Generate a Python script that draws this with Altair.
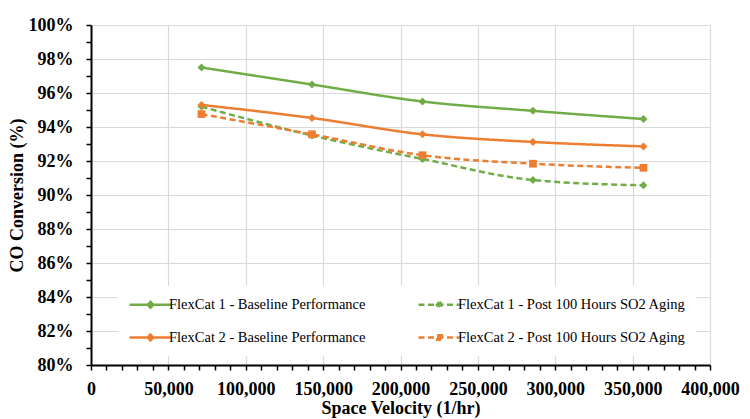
import altair as alt
import pandas as pd

# ---- data ----
space_velocity = [71400, 142800, 214200, 285600, 357000]
fc1_baseline = [97.50, 96.50, 95.50, 94.95, 94.47]
fc1_post = [95.20, 93.50, 92.12, 90.88, 90.57]
fc2_baseline = [95.30, 94.53, 93.57, 93.12, 92.86]
fc2_post = [94.76, 93.57, 92.34, 91.84, 91.60]

series_names = [
    "FlexCat 1 - Baseline Performance",
    "FlexCat 1 - Post 100 Hours SO2 Aging",
    "FlexCat 2 - Baseline Performance",
    "FlexCat 2 - Post 100 Hours SO2 Aging",
]
series_values = [fc1_baseline, fc1_post, fc2_baseline, fc2_post]
series_colors = ["#70AD47", "#70AD47", "#ED7D31", "#ED7D31"]
series_dashes = [[1, 0], [6, 3.5], [1, 0], [6, 3.5]]

y_ticks = [round(0.80 + i * 0.01, 2) for i in range(21)]
x_ticks = list(range(0, 400001, 10000))

rows = []
for name, vals in zip(series_names, series_values):
    for sv, v in zip(space_velocity, vals):
        rows.append({"series": name, "sv": sv, "val": v / 100.0})
df = pd.DataFrame(rows)

FONT = "Liberation Serif"

color_scale = alt.Scale(domain=series_names, range=series_colors)
dash_scale = alt.Scale(domain=series_names, range=series_dashes)

diamond_path = "M-1,0H5M2,-0.42L2.38,0L2,0.42L1.62,0Z"
square_path = "M-1,0H5M1.68,-0.32H2.32V0.32H1.68Z"
shape_scale = alt.Scale(domain=series_names,
                        range=[diamond_path, diamond_path, diamond_path, square_path])

xaxis = alt.Axis(
    values=x_ticks,
    labelExpr="datum.value % 50000 == 0 ? format(datum.value, ',') : ''",
    gridOpacity={"condition": {"test": "datum.value % 50000 == 0 && datum.value > 0", "value": 1}, "value": 0},
    title="Space Velocity (1/hr)",
    labelOverlap=False,
    labelFlush=False,
    labelPadding=10,
    titlePadding=1,
)
yaxis = alt.Axis(
    values=y_ticks,
    labelExpr="round(datum.value * 100) % 2 == 0 ? format(datum.value, '.0%') : ''",
    gridOpacity={"condition": {"test": "round(datum.value * 100) % 2 == 0", "value": 1}, "value": 0},
    title="CO Conversion (%)",
    labelOverlap=False,
    labelPadding=13,
    titlePadding=2,
)

leg = alt.Legend(
    title=None,
    orient="none",
    legendX=27,
    legendY=261,
    columns=2,
    direction="horizontal",
    columnPadding=47,
    rowPadding=16,
    padding=10,
    fillColor="white",
    labelFont=FONT,
    labelFontSize=14.5,
    labelColor="black",
    labelLimit=400,
    symbolSize=196,
    symbolStrokeWidth=2.5,
    labelOffset=24,
    symbolOpacity=1,
)

base = alt.Chart(df).encode(
    x=alt.X("sv:Q", scale=alt.Scale(domain=[0, 400000], nice=False, zero=False), axis=xaxis),
    y=alt.Y("val:Q", scale=alt.Scale(domain=[0.8, 1.0], nice=False, zero=False), axis=yaxis),
)

lines = base.mark_line(strokeWidth=2.5, interpolate="monotone").encode(
    color=alt.Color("series:N", scale=color_scale, legend=leg, sort=None),
    strokeDash=alt.StrokeDash("series:N", scale=dash_scale, legend=leg, sort=None),
)

diamonds = base.transform_filter(
    alt.datum.series != series_names[3]
).mark_point(shape="diamond", filled=True, size=64, opacity=1).encode(
    color=alt.Color("series:N", scale=color_scale, legend=leg, sort=None),
)

squares = base.transform_filter(
    alt.datum.series == series_names[3]
).mark_point(shape="square", filled=True, size=60, opacity=1).encode(
    color=alt.Color("series:N", scale=color_scale, legend=leg, sort=None),
)

legend_layer = base.mark_point(filled=True, opacity=0).encode(
    fill=alt.Fill("series:N", scale=alt.Scale(domain=series_names, range=series_colors), legend=leg, sort=None),
    stroke=alt.Stroke("series:N", scale=alt.Scale(domain=series_names, range=series_colors), legend=leg, sort=None),
    shape=alt.Shape("series:N", scale=shape_scale, legend=leg, sort=None),
    strokeDash=alt.StrokeDash("series:N", scale=dash_scale, legend=leg, sort=None),
)

chart = alt.layer(lines, diamonds, squares, legend_layer).properties(
    width=619,
    height=340,
    autosize=alt.AutoSizeParams(type="none"),
    padding={"left": 83, "top": 17, "right": 32, "bottom": 54},
).configure_view(stroke=None).configure_axis(
    labelFont=FONT,
    labelFontSize=18,
    labelFontWeight="bold",
    labelColor="black",
    titleFont=FONT,
    titleFontSize=18,
    titleFontWeight="bold",
    titleColor="black",
    domainColor="black",
    domainWidth=2,
    tickColor="black",
    tickWidth=1.5,
    tickSize=5,
    gridColor="#D9D9D9",
    gridWidth=1.2,
).configure_legend(
    labelFont=FONT,
    labelFontSize=14.5,
    labelColor="black",
)

chart.save("out.html", embed_options={"renderer": "svg", "actions": False})
